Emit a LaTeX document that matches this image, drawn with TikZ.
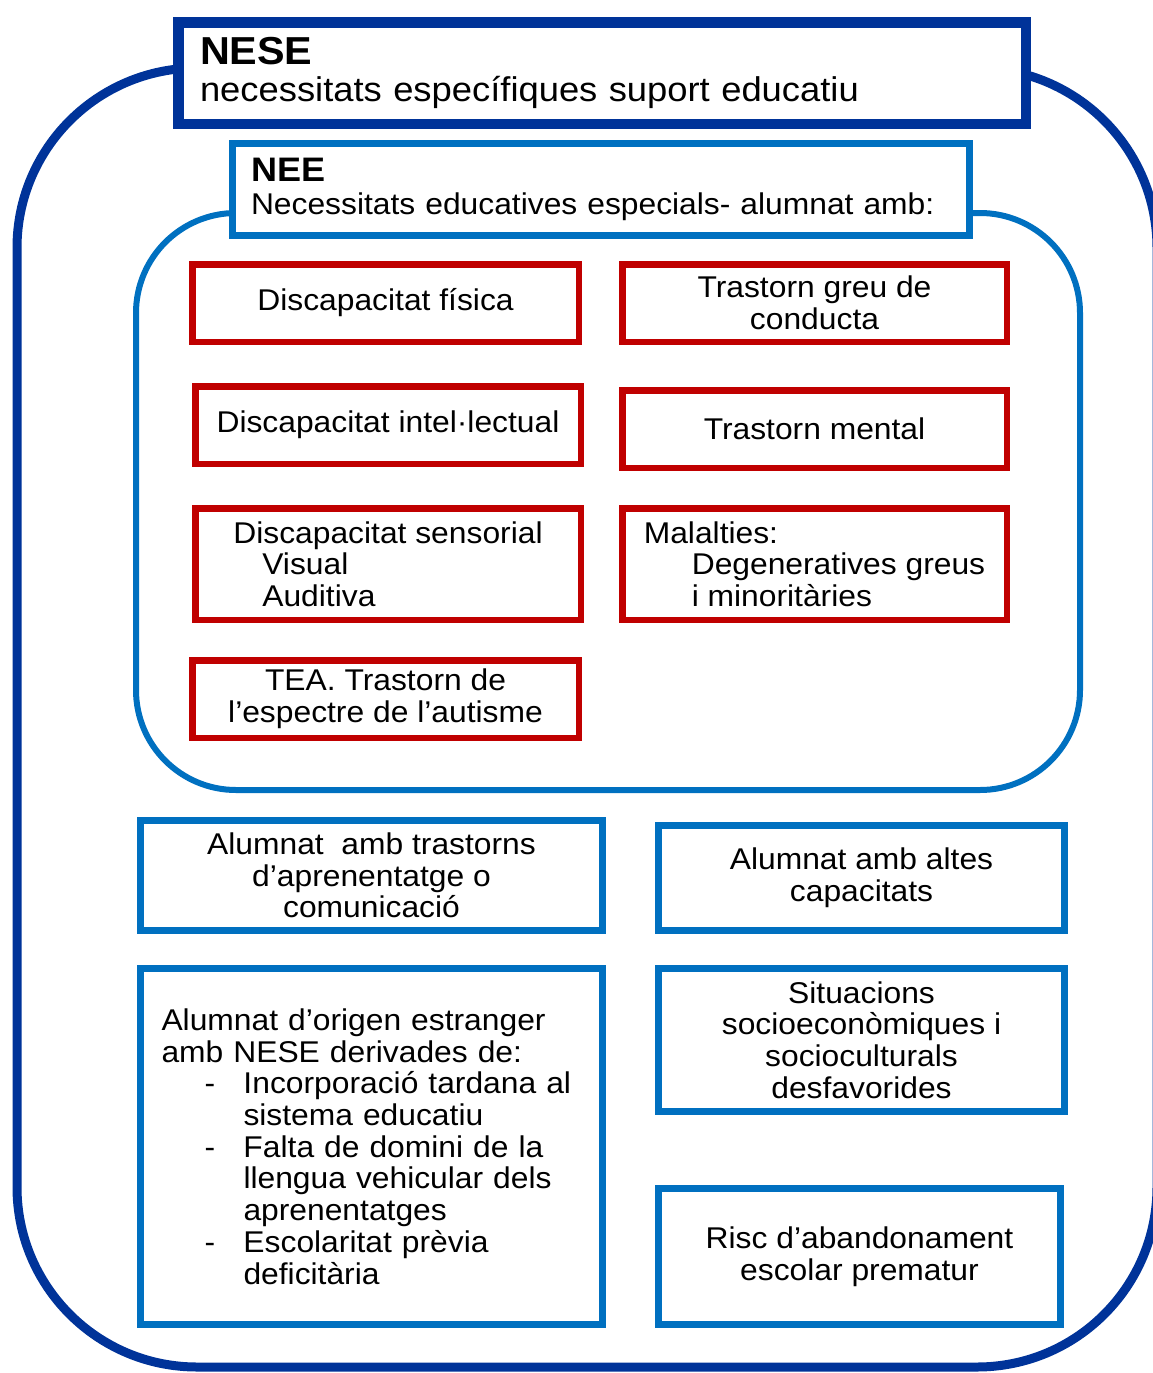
\documentclass[tikz,border=0pt]{standalone}
\usepackage{fontspec}
\setmainfont{Liberation Sans}[FakeStretch=1.06]
\usetikzlibrary{positioning}
\definecolor{neseblue}{HTML}{003399}
\definecolor{neeblue}{HTML}{0070C0}
\definecolor{neered}{HTML}{C00000}
\tikzset{
  box/.style={draw, fill=white, rectangle, inner sep=0pt, align=center,
    font=\fontsize{30}{31.7}\selectfont},
  redbox/.style={box, draw=neered, line width=6.5pt},
  bluebox/.style={box, draw=neeblue, line width=7pt},
  headbox/.style={draw, fill=white, rectangle, inner ysep=0pt, align=left}
}
\newcommand{\dashitem}{\makebox[82pt][l]{\hspace*{43pt}-}}
\newcommand{\dashcont}{\hspace*{82pt}}

\begin{document}
\begin{tikzpicture}[x=1pt, y=-1pt]
    \useasboundingbox (0,0) rectangle (1153,1373);

    % outer frame (NESE) and inner frame (NEE)
    \draw[neseblue, line width=9pt, rounded corners=180pt] (17,68) rectangle (1157,1367);
    \draw[neeblue, line width=6pt, rounded corners=100pt] (136,213) rectangle (1080,790);

    % titles
    \node[headbox, draw=neseblue, line width=10.5pt, inner xsep=21.75pt, text width=804pt,
          minimum height=101.5pt, font=\fontsize{34.3}{37}\selectfont] (nese) at (602,73)
        {\textbf{\fontsize{39}{37}\selectfont NESE}\\necessitats específiques suport educatiu};
    \node[headbox, draw=neeblue, line width=7pt, inner xsep=18.5pt, text width=700pt,
          minimum height=92pt, font=\fontsize{30}{33}\selectfont] (nee) at (601,189.5)
        {\textbf{\fontsize{34}{33}\selectfont NEE}\\Necessitats educatives especials- alumnat amb:};

    % NEE groups
    \node[redbox, minimum width=386.5pt, minimum height=77.5pt] (fisica) at (385.5,303)
        {Discapacitat física};
    \node[redbox, minimum width=384.5pt, minimum height=77.5pt] (conducta) at (814.5,303)
        {Trastorn greu de\\conducta};
    \node[redbox, minimum width=385.5pt, minimum height=77.5pt] (intel) at (388,425)
        {Discapacitat intel·lectual};
    \node[redbox, minimum width=384.5pt, minimum height=77.5pt] (mental) at (814.5,429)
        {Trastorn mental};
    \node[redbox, align=left, minimum width=385.5pt, minimum height=111.5pt] (sensorial) at (388,564)
        {Discapacitat sensorial\\\hspace*{29pt}Visual\\\hspace*{29pt}Auditiva};
    \node[redbox, align=left, minimum width=384.5pt, minimum height=111.5pt] (malalties) at (814.5,564)
        {Malalties:\\\hspace*{48pt}Degeneratives greus\\\hspace*{48pt}i minoritàries};
    \node[redbox, minimum width=386.5pt, minimum height=77.5pt] (tea) at (385.5,699)
        {TEA. Trastorn de\\l’espectre de l’autisme};

    % other NESE groups
    \node[bluebox, minimum width=462pt, minimum height=110pt] (trastorns) at (371.5,875.5)
        {Alumnat \ amb trastorns\\d’aprenentatge o\\comunicació};
    \node[bluebox, minimum width=406pt, minimum height=105pt] (altes) at (861.5,878)
        {Alumnat amb altes\\capacitats};
    \node[bluebox, align=left, text width=420pt, minimum width=462pt, minimum height=356pt] (origen) at (371.5,1146.5)
        {Alumnat d’origen estranger\\amb NESE derivades de:\\
         \dashitem Incorporació tardana al\\\dashcont sistema educatiu\\
         \dashitem Falta de domini de la\\\dashcont llengua vehicular dels\\\dashcont aprenentatges\\
         \dashitem Escolaritat prèvia\\\dashcont deficitària};
    \node[bluebox, minimum width=406pt, minimum height=143pt] (situacions) at (861.5,1040)
        {Situacions\\socioeconòmiques i\\socioculturals\\desfavorides};
    \node[bluebox, minimum width=402pt, minimum height=136pt] (risc) at (859.5,1256.5)
        {Risc d’abandonament\\escolar prematur};

\end{tikzpicture}
\end{document}
